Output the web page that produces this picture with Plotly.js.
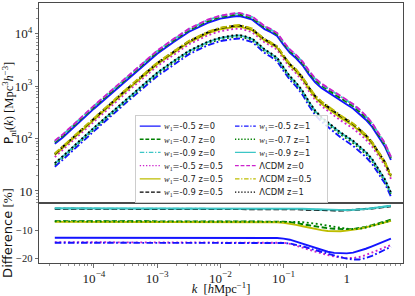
<!DOCTYPE html>
<html><head><meta charset="utf-8">
<script src="https://cdn.plot.ly/plotly-3.0.1.min.js"></script>
<style>html,body{margin:0;padding:0;background:#fff}#chart{width:415px;height:296px}</style>
</head><body><div id="chart"></div>
<script>
// wavenumbers k [h/Mpc]
const k = [2.4e-5, 3.2e-5, 1e-4, 3.2e-4, 1e-3, 1.8e-3, 3.2e-3, 6.3e-3, 0.01, 0.016, 0.02, 0.025, 0.032, 0.04, 0.05, 0.063, 0.079, 0.1, 0.126, 0.158, 0.2, 0.251, 0.316, 0.398, 0.501, 0.631, 0.794, 1.0, 1.26, 1.58, 2.0, 2.51, 3.16, 3.98, 5.0];

// LCDM nonlinear power spectra [Mpc^3 h^-3]
const pLCDM_z0  = [91, 120, 427, 1479, 4786, 7943, 12590, 18620, 22390, 24550, 25120, 23440, 21380, 17380, 14130, 12300, 10470, 7079, 5012, 3981, 2951, 1995, 1413, 1122, 933, 776, 646, 550, 457, 363, 275, 200, 132, 83, 45];
const pLCDM_z05 = [52, 71, 251, 871, 2818, 4677, 7413, 10960, 13180, 14450, 14790, 13800, 12590, 10000, 8035, 6918, 5821, 3890, 2692, 2089, 1496, 977, 668, 513, 417, 339, 279, 234, 195, 155, 119, 87, 58, 37, 20];
const pLCDM_z1  = [34, 46, 162, 562, 1820, 3020, 4786, 7079, 8511, 9333, 9550, 8913, 8128, 6457, 5070, 4266, 3508, 2291, 1549, 1175, 813, 513, 343, 257, 204, 162, 132, 110, 91, 72, 56, 41, 27, 17, 9.3];

// Relative difference to LCDM [%]
const diff_w05_z0  = [-12.6,-12.6,-12.6,-12.6,-12.6,-12.6,-12.6,-12.6,-12.6,-12.6,-12.6,-12.6,-12.6,-12.6,-12.6,-12.6,-12.7,-12.9,-13.3,-14.0,-14.8,-15.6,-16.4,-17.1,-17.7,-18.1,-18.3,-18.3,-18.0,-17.4,-16.6,-15.7,-14.7,-13.7,-12.9];
const diff_w07_z0  = [-6.5,-6.5,-6.5,-6.5,-6.5,-6.5,-6.5,-6.5,-6.5,-6.5,-6.5,-6.5,-6.5,-6.5,-6.5,-6.5,-6.6,-6.7,-6.9,-7.2,-7.6,-8.0,-8.4,-8.8,-9.1,-9.3,-9.5,-9.5,-9.4,-9.1,-8.6,-8.0,-7.3,-6.6,-6.0];
const diff_w09_z0  = [-1.9,-1.9,-1.9,-1.9,-1.9,-1.9,-1.9,-1.9,-1.9,-1.9,-1.9,-1.9,-1.9,-1.9,-1.9,-1.9,-1.9,-1.9,-2.0,-2.1,-2.2,-2.3,-2.4,-2.5,-2.6,-2.6,-2.6,-2.5,-2.4,-2.2,-2.0,-1.8,-1.5,-1.3,-1.0];
const diff_w05_z05 = [-14.2,-14.2,-14.2,-14.2,-14.2,-14.2,-14.2,-14.2,-14.2,-14.2,-14.2,-14.2,-14.2,-14.2,-14.2,-14.2,-14.2,-14.4,-14.8,-15.4,-16.1,-16.9,-17.6,-18.3,-18.9,-19.4,-19.8,-20.0,-20.0,-19.6,-18.9,-18.0,-17.0,-16.0,-15.2];
const diff_w07_z05 = [-6.8,-6.8,-6.8,-6.8,-6.8,-6.8,-6.8,-6.8,-6.8,-6.8,-6.8,-6.8,-6.8,-6.8,-6.8,-6.8,-6.9,-7.1,-7.4,-7.9,-8.4,-8.9,-9.4,-9.8,-10.1,-10.2,-10.2,-10.0,-9.7,-9.3,-8.8,-8.2,-7.6,-7.0,-6.4];
const diff_w09_z05 = [-2.0,-2.0,-2.0,-2.0,-2.0,-2.0,-2.0,-2.0,-2.0,-2.0,-2.0,-2.0,-2.0,-2.0,-2.0,-2.0,-2.0,-2.0,-2.1,-2.2,-2.3,-2.4,-2.5,-2.6,-2.7,-2.7,-2.7,-2.6,-2.5,-2.3,-2.1,-1.9,-1.6,-1.4,-1.1];
const diff_w05_z1  = [-14.4,-14.4,-14.4,-14.4,-14.4,-14.4,-14.4,-14.4,-14.4,-14.4,-14.4,-14.4,-14.4,-14.4,-14.4,-14.4,-14.4,-14.5,-14.7,-15.1,-15.7,-16.4,-17.1,-17.8,-18.5,-19.1,-19.7,-20.2,-20.5,-20.5,-20.0,-19.2,-18.1,-16.9,-15.9];
const diff_w07_z1  = [-6.6,-6.6,-6.6,-6.6,-6.6,-6.6,-6.6,-6.6,-6.6,-6.6,-6.6,-6.6,-6.6,-6.6,-6.6,-6.6,-6.6,-6.6,-6.7,-6.8,-6.9,-7.1,-7.4,-7.8,-8.2,-8.6,-9.0,-9.3,-9.4,-9.3,-8.9,-8.3,-7.6,-6.9,-6.3];
const diff_w09_z1  = [-1.8,-1.8,-1.8,-1.8,-1.8,-1.8,-1.8,-1.8,-1.8,-1.8,-1.8,-1.8,-1.8,-1.8,-1.8,-1.8,-1.8,-1.8,-1.8,-1.9,-2.0,-2.1,-2.2,-2.3,-2.4,-2.5,-2.5,-2.5,-2.4,-2.3,-2.1,-1.8,-1.5,-1.2,-0.9];

const SERIF = "Liberation Serif";
const SANS = "DejaVu Sans";
const C = {blue:'#1414ff', green:'#008000', cyan:'#3cc6c6', mag:'#cc22cc', yel:'#bdbd00', blk:'#000000'};
const D = {solid:'solid', dash:'5.5px,2.6px', dashdot:'6.5px,2.4px,1.8px,2.4px', dot:'1.9px,2.6px'};

function wLabel(w, z){ return '<span style="font-family:' + SERIF + '"><i>w</i><sub>1</sub></span>=' + w + ' z=' + z; }

const models = [
  {name: wLabel('-0.5','0'),   base: pLCDM_z0,  diff: diff_w05_z0,  color: C.blue,  dash: D.solid},
  {name: wLabel('-0.7','0'),   base: pLCDM_z0,  diff: diff_w07_z0,  color: C.green, dash: D.dash},
  {name: wLabel('-0.9','0'),   base: pLCDM_z0,  diff: diff_w09_z0,  color: C.cyan,  dash: D.dashdot},
  {name: wLabel('-0.5','0.5'), base: pLCDM_z05, diff: diff_w05_z05, color: C.mag,   dash: D.dot},
  {name: wLabel('-0.7','0.5'), base: pLCDM_z05, diff: diff_w07_z05, color: C.yel,   dash: D.solid},
  {name: wLabel('-0.9','0.5'), base: pLCDM_z05, diff: diff_w09_z05, color: C.blk,   dash: D.dash},
  {name: wLabel('-0.5','1'),   base: pLCDM_z1,  diff: diff_w05_z1,  color: C.blue,  dash: D.dashdot},
  {name: wLabel('-0.7','1'),   base: pLCDM_z1,  diff: diff_w07_z1,  color: C.green, dash: D.dot},
  {name: wLabel('-0.9','1'),   base: pLCDM_z1,  diff: diff_w09_z1,  color: C.cyan,  dash: D.solid}
];
const lcdm = [
  {name: 'ΛCDM z=0',   p: pLCDM_z0,  color: C.mag, dash: D.dash},
  {name: 'ΛCDM z=0.5', p: pLCDM_z05, color: C.yel, dash: D.dashdot},
  {name: 'ΛCDM z=1',   p: pLCDM_z1,  color: C.blk, dash: D.dot}
];

const LW = 1.9;
const traces = [];
const rank = i => (i < 6 ? 2*i + 1 : 2*(i-6) + 2);
models.forEach((m, i) => {
  traces.push({x: k, y: m.base.map((p, j) => p * (1 + m.diff[j]/100)), xaxis:'x', yaxis:'y', type:'scatter', mode:'lines',
    name: m.name, legendrank: rank(i), line:{color:m.color, dash:m.dash, width:LW}});
});
lcdm.forEach((m, i) => {
  traces.push({x: k, y: m.p, xaxis:'x', yaxis:'y', type:'scatter', mode:'lines',
    name: m.name, legendrank: rank(9+i), line:{color:m.color, dash:m.dash, width:LW}});
});
models.forEach(m => {
  traces.push({x: k, y: m.diff, xaxis:'x2', yaxis:'y2', type:'scatter', mode:'lines', showlegend:false,
    line:{color:m.color, dash:m.dash, width:LW}});
});

const AX = '#4a4a4a';
const tickFont = {family: SERIF, size: 10.5, color:'#222'};
const split = 60/260;
const layout = {
  width:415, height:296, margin:{l:38.5, r:8, t:3, b:33},
  paper_bgcolor:'#fff', plot_bgcolor:'#fff', showlegend:true,
  xaxis:{type:'log', range:[-4.87,0.89], anchor:'y', domain:[0,1], showticklabels:false, ticks:'',
    showline:true, mirror:true, linecolor:AX, linewidth:1, showgrid:false, zeroline:false},
  yaxis:{type:'log', range:[0.77,4.59], anchor:'x', domain:[split,1], dtick:1, exponentformat:'power',
    ticks:'outside', ticklen:3.5, tickwidth:0.8, tickcolor:AX, tickfont:tickFont,
    minor:{ticks:'outside', ticklen:2, tickwidth:0.6, tickcolor:AX},
    showline:true, mirror:true, linecolor:AX, linewidth:1, showgrid:false, zeroline:false,
    title:{text:'<span style="font-family:' + SANS + '">P</span><sub>nl</sub>(<i>k</i>) [Mpc<sup>3</sup><i>h</i><sup>−3</sup>]',
      font:{family:SERIF, size:12.5, color:'#111'}, standoff:4}},
  xaxis2:{type:'log', range:[-4.87,0.89], anchor:'y2', domain:[0,1], dtick:1, exponentformat:'power',
    ticks:'outside', ticklen:3.5, tickwidth:0.8, tickcolor:AX, tickfont:tickFont,
    minor:{ticks:'outside', ticklen:2, tickwidth:0.6, tickcolor:AX},
    showline:true, mirror:true, linecolor:AX, linewidth:1, showgrid:false, zeroline:false,
    title:{text:'<i>k</i>  [<i>h</i>Mpc<sup>−1</sup>]', font:{family:SERIF, size:12.5, color:'#111'}, standoff:7}},
  yaxis2:{range:[-21.8,0.1], anchor:'x2', domain:[0,split], tickvals:[-10,-20],
    ticks:'outside', ticklen:3.5, tickwidth:0.8, tickcolor:AX, tickfont:tickFont,
    showline:true, mirror:true, linecolor:AX, linewidth:1, showgrid:false, zeroline:false,
    title:{text:'<span style="font-family:' + SANS + '">Difference</span> [%]', font:{family:SERIF, size:13, color:'#111'}, standoff:6}},
  legend:{orientation:'h', x:(136-38.5)/368.5, y:(263-115)/260, xanchor:'left', yanchor:'top',
    entrywidth:92, itemwidth:30, font:{family:SANS, size:12, color:'#222'},
    bgcolor:'rgba(255,255,255,0.85)', bordercolor:'#cccccc', borderwidth:1.4}
};

Plotly.newPlot('chart', traces, layout, {staticPlot:true, displayModeBar:false}).then(gd => {
  const lg = gd.querySelector('g.legend');
  if (lg) lg.setAttribute('transform', lg.getAttribute('transform') + ' scale(0.695)');
});
</script></body></html>
